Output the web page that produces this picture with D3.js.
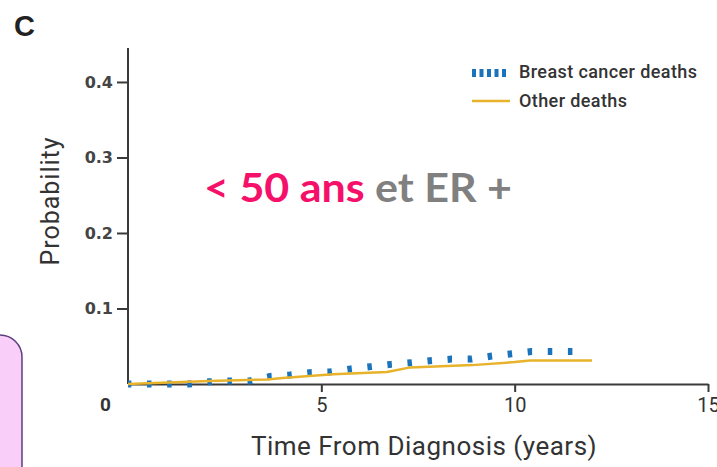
<!DOCTYPE html>
<html>
<head>
<meta charset="utf-8">
<script src="https://cdn.jsdelivr.net/npm/d3@7"></script>
<style>
  html, body { margin: 0; padding: 0; background: #fff; }
  svg { display: block; }
</style>
</head>
<body>
<svg id="chart" width="717" height="467"></svg>
<script>
// Cumulative incidence of death, women < 50 years with ER+ tumours
const breastTime = [0, 0.54, 1.06, 1.58, 2.09, 2.64, 3.15, 3.67, 4.19, 4.70, 5.22, 5.76, 6.28, 6.80, 7.31, 7.86, 8.37, 8.89, 9.41, 9.92, 10.44, 10.96, 11.52];
const breastProb = [0, 0, 0, 0, 0.003, 0.004, 0.004, 0.010, 0.012, 0.015, 0.016, 0.020, 0.023, 0.026, 0.028, 0.031, 0.033, 0.033, 0.037, 0.040, 0.043, 0.043, 0.043];

const otherTime = [0, 2.1, 3.6, 4.0, 5.3, 6.7, 7.3, 8.9, 10.0, 10.4, 12.0];
const otherProb = [0, 0.004, 0.006, 0.008, 0.013, 0.016, 0.022, 0.025, 0.029, 0.031, 0.031];

const xTicks = [0, 5, 10, 15];
const yTicks = [0.1, 0.2, 0.3, 0.4];
const seriesNames = ["Breast cancer deaths", "Other deaths"];

const blue = "#1b74bb";
const gold = "#e8b22a";
const axisColor = "#3a3a3a";

const svg = d3.select("#chart");

const x = d3.scaleLinear().domain([0, 15]).range([128, 708]);
const y = d3.scaleLinear().domain([0, 0.445]).range([384, 48]);

// Side panel box
svg.append("rect")
  .attr("x", -30).attr("y", 335).attr("width", 52).attr("height", 200)
  .attr("rx", 22).attr("ry", 22)
  .attr("fill", "#f9cef9").attr("stroke", "#5b3f7f").attr("stroke-width", 1.5);

// Panel letter
svg.append("text")
  .attr("x", 14).attr("y", 36)
  .attr("font-family", "Liberation Sans, Arial, sans-serif")
  .attr("font-weight", "bold").attr("font-size", 29)
  .attr("fill", "#222").text("C");

// Y axis
const yAxis = svg.append("g")
  .attr("transform", `translate(${x(0)},0)`)
  .call(d3.axisLeft(y).tickValues(yTicks).tickSize(11).tickPadding(4)
    .tickFormat(d3.format(".1f")));
yAxis.select(".domain").remove();
yAxis.append("line")
  .attr("x1", 0).attr("x2", 0).attr("y1", y(0.445)).attr("y2", y(0))
  .attr("stroke", axisColor).attr("stroke-width", 2);
yAxis.selectAll(".tick line").attr("stroke", axisColor).attr("stroke-width", 2);
yAxis.selectAll(".tick text")
  .attr("font-family", "DejaVu Sans, sans-serif")
  .attr("font-weight", "bold").attr("font-size", 16)
  .attr("fill", "#444");

// X axis
const xAxis = svg.append("g")
  .attr("transform", `translate(0,${y(0)})`)
  .call(d3.axisBottom(x).tickValues(xTicks).tickSize(8).tickSizeOuter(0).tickPadding(6)
    .tickFormat(d3.format("d")));
xAxis.select(".domain").attr("stroke", axisColor).attr("stroke-width", 2);
xAxis.selectAll(".tick line").attr("stroke", axisColor).attr("stroke-width", 2);
xAxis.selectAll(".tick text")
  .attr("font-family", "Roboto, sans-serif")
  .attr("font-size", 20).attr("fill", "#333");
// origin label sits to the lower left of the corner
xAxis.selectAll(".tick").filter(d => d === 0).each(function () {
  d3.select(this).select("line").remove();
  d3.select(this).select("text").attr("x", -23).attr("font-weight", "bold").attr("font-size", 19);
});

// Axis titles
svg.append("text")
  .attr("x", 424).attr("y", 455)
  .attr("text-anchor", "middle")
  .attr("font-family", "Roboto, sans-serif").attr("font-size", 26)
  .attr("letter-spacing", 0.5)
  .attr("fill", "#333").text("Time From Diagnosis (years)");

svg.append("text")
  .attr("transform", "translate(59,201) rotate(-90)")
  .attr("text-anchor", "middle")
  .attr("font-family", "Roboto, sans-serif").attr("font-size", 25)
  .attr("letter-spacing", 1)
  .attr("fill", "#333").text("Probability");

// Series
const breastData = breastTime.map((t, i) => [t, breastProb[i]]);
const otherData = otherTime.map((t, i) => [t, otherProb[i]]);
const line = d3.line().x(d => x(d[0])).y(d => y(d[1]));

svg.append("path")
  .datum(breastData)
  .attr("d", line)
  .attr("fill", "none")
  .attr("stroke", blue).attr("stroke-width", 7)
  .attr("stroke-dasharray", "4.5 15.64")
  .attr("stroke-dashoffset", 1.14);

svg.append("path")
  .datum(otherData)
  .attr("d", line)
  .attr("fill", "none")
  .attr("stroke", gold).attr("stroke-width", 2.5)
  .attr("stroke-linejoin", "round");

// Legend
const legend = svg.append("g");
legend.append("line")
  .attr("x1", 472).attr("x2", 509).attr("y1", 73).attr("y2", 73)
  .attr("stroke", blue).attr("stroke-width", 8).attr("stroke-dasharray", "4 3.5");
legend.append("line")
  .attr("x1", 472).attr("x2", 510).attr("y1", 101).attr("y2", 101)
  .attr("stroke", gold).attr("stroke-width", 2.5);
legend.selectAll("text.leg")
  .data(seriesNames)
  .join("text")
  .attr("class", "leg")
  .attr("x", 519).attr("y", (d, i) => 78 + i * 29)
  .attr("font-family", "Roboto, sans-serif").attr("font-weight", 500)
  .attr("font-size", 18).attr("letter-spacing", 0.4).attr("fill", "#333")
  .text(d => d);

// Subgroup caption
const caption = svg.append("text")
  .attr("x", 204).attr("y", 202)
  .attr("font-family", "Lato, sans-serif").attr("font-weight", "bold")
  .attr("font-size", 41)
  .attr("textLength", 308).attr("lengthAdjust", "spacingAndGlyphs");
caption.append("tspan").attr("fill", "#f5106a").text("< 50 ans");
caption.append("tspan").attr("fill", "#808080").text(" et ER +");
</script>
</body>
</html>
